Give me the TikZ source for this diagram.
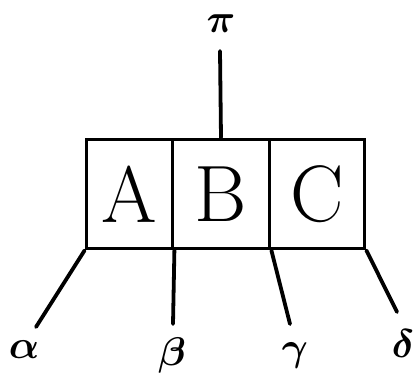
\RequirePackage{fix-cm}
\documentclass[tikz,border=0pt]{standalone}
\begin{document}
\begin{tikzpicture}[x=1pt,y=-1pt,
  wire/.style={line width=3.8pt,line cap=round,line join=round},
  cell/.style={draw,line width=3.8pt,minimum height=109pt,inner sep=0pt,font=\fontsize{80}{80}\selectfont},
  greek/.style={inner sep=0pt,font=\fontsize{40}{40}\selectfont\boldmath}]
\useasboundingbox (0,0) rectangle (417,388);
\node[cell,minimum width=86pt] (A) at (129.5,194) {A};
\node[cell,minimum width=97pt] (B) at (221,194) {B};
\node[cell,minimum width=95pt] (C) at (317,194) {C};
\node[greek] (pi) at (221,24) {$\pi$};
\node[greek] (al) at (24,350) {$\alpha$};
\node[greek] (be) at (172,355) {$\beta$};
\node[greek] (ga) at (295,355) {$\gamma$};
\node[greek] (de) at (403,344) {$\delta$};
\coordinate (piend) at (220,51);
\coordinate (alend) at (36,327);
\coordinate (beend) at (173,324);
\coordinate (gaend) at (290,324);
\coordinate (deend) at (397,312);
\draw[wire] (piend) -- (B.north);
\draw[wire] (A.south west) -- (alend);
\draw[wire] (A.south east) -- (beend);
\draw[wire] (B.south east) -- (gaend);
\draw[wire] (C.south east) -- (deend);
\end{tikzpicture}
\end{document}
